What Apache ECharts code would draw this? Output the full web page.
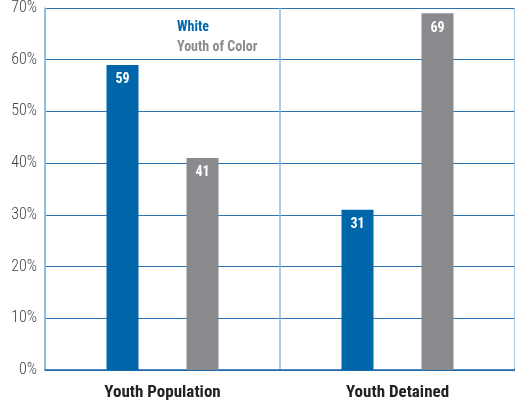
<!DOCTYPE html>
<html>
<head>
<meta charset="utf-8">
<script src="https://cdn.jsdelivr.net/npm/echarts@6/dist/echarts.min.js"></script>
<style>html,body{margin:0;padding:0;background:#fff}#c{width:515px;height:406px}</style>
</head>
<body>
<div id="c"></div>
<script>
const categories = ['Youth Population', 'Youth Detained'];
const whiteValues = [59, 31];
const colorValues = [41, 69];
const yTicks = [0, 10, 20, 30, 40, 50, 60, 70];

const condensed = '"Roboto Condensed", "Open Sans Condensed", sans-serif';
const chart = echarts.init(document.getElementById('c'));
const labelStyle = {
  show: true, position: 'insideTop', distance: 8,
  color: '#fff', fontFamily: condensed, fontWeight: 'bold', fontSize: 14
};
chart.setOption({
  animation: false,
  grid: { left: 45, right: -2, top: 8, bottom: 36 },
  legend: {
    orient: 'vertical', left: 167, top: 15, itemWidth: 0, itemHeight: 0, itemGap: 6,
    icon: 'rect', selectedMode: false,
    textStyle: { fontFamily: condensed, fontWeight: 'bold', fontSize: 14 },
    data: [
      { name: 'White', textStyle: { color: '#0066aa' } },
      { name: 'Youth of Color', textStyle: { color: '#8a8b8f' } }
    ]
  },
  xAxis: {
    type: 'category', data: categories,
    axisLine: { show: true, lineStyle: { color: '#1a66a8', width: 1.5 } },
    axisTick: { show: false },
    splitLine: { show: true, lineStyle: { color: '#8ab8dc', width: 1.5 } },
    axisLabel: { color: '#222', fontFamily: condensed, fontWeight: 'bold', fontSize: 17, margin: 14 }
  },
  yAxis: {
    type: 'value', min: 0, max: 70, interval: 10,
    axisLine: { show: true, lineStyle: { color: '#8ab8dc', width: 1.5 } },
    axisTick: { show: false },
    splitLine: { lineStyle: { color: '#2a72b2', width: 1.2 } },
    axisLabel: {
      color: '#444', fontFamily: condensed, fontWeight: 300, fontSize: 16, margin: 8,
      formatter: v => yTicks.includes(v) ? v + '%' : ''
    }
  },
  series: [
    { name: 'White', type: 'bar', data: whiteValues, barWidth: 32, barGap: '150%',
      itemStyle: { color: '#0066aa' }, label: labelStyle },
    { name: 'Youth of Color', type: 'bar', data: colorValues, barWidth: 32,
      itemStyle: { color: '#8a8b8f' }, label: labelStyle }
  ]
});
</script>
</body>
</html>
